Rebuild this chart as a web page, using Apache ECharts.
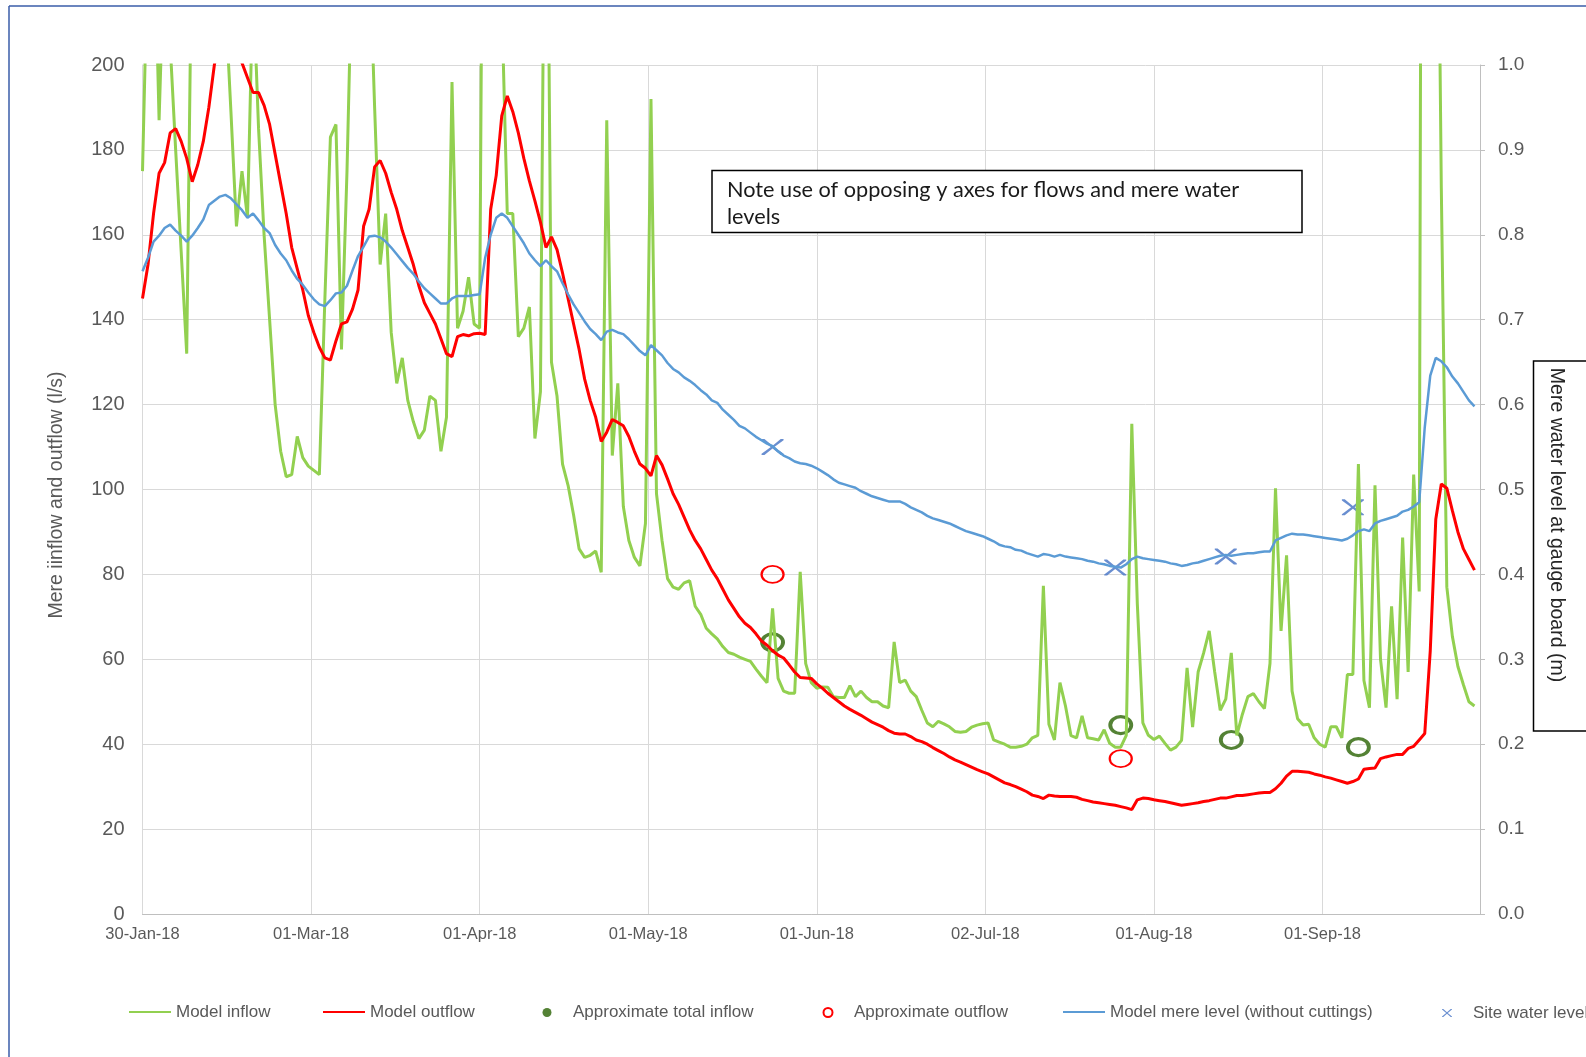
<!DOCTYPE html>
<html><head><meta charset="utf-8">
<script src="https://cdn.jsdelivr.net/npm/echarts@6/dist/echarts.min.js"></script>
<style>html,body{margin:0;padding:0;background:#fff;} #c{width:1586px;height:1057px;}</style>
</head><body><div id="c"></div>
<script>
// x axis: days after 30-Jan-18 (daily model output, day 0 .. 241)
const tickLabels = ['30-Jan-18','01-Mar-18','01-Apr-18','01-May-18','01-Jun-18','02-Jul-18','01-Aug-18','01-Sep-18'];

// Model inflow (l/s), one value per day from 30-Jan-18
const inflow = [
175,230,240,187,230,205,180,156,132,240, 280,300,290,270,250,215,189,162,175,164,
220,185,160,140,120,109,103,103.5,112.5,107.5, 105.5,104.5,103.5,145,183,186,133,175,230,260,
250,230,190,153,165,137,125,131,121,116, 112,114,122,121,109,117,196,138,142,150,
139,138,350,300,260,215,165,165,136,138, 143,112,123,290,130,122,106,101,94,86,
84,84.5,85.5,80.5,187,108,125,96,88,84, 82,92,192,99,88,79,77,76.5,78,78.5,
72.5,70.6,67.3,66,64.8,63,61.6,61.2,60.5,60, 59.5,57.7,56,54.5,72,55.5,52.5,52,52,80.6,
59,54.5,53.2,53.5,53.4,51.2,51,51,53.8,51.2, 52.5,51,50,50,49,48.6,64.1,54.5,55.1,52.5,
51.2,48,45,44.1,45.4,44.8,44.1,43,42.8,43, 44,44.5,44.8,45,41,40.5,40,39.3,39.3,39.5,
40,41.5,42.1,77.3,44.7,41,54.5,49,42,41.5, 46.7,41.5,41.3,41,43.4,40.2,39.3,39.3,42.1,115.5,
73,45,42.1,41.1,41.9,40.2,38.6,39.3,40.9,58, 44,57,61.5,66.7,57,48,50.6,61.5,42.1,47,
51.2,51.9,50,48.4,59,100.3,66.7,84.5,52.5,46, 44.5,44.7,41.5,40,39.3,44.1,44.1,41.5,56.4,56.4,
106,55,48.6,101,60,48.6,72.5,50.6,88.7,57, 103.5,76,600,520,300,171,77,65.4,58.3,54,
50,49
];

// Model outflow (l/s), one value per day
const outflow = [
145,153,165,174.5,177,184,185,182,178,172.5, 176.5,182,190,200,207,211,212,207,200.5,197,
193.5,193.5,190.5,186,179,172,165,157,152,147, 141,137,133.5,131,130.5,135,139,139.5,142.5,147,
162,166,176,177.5,174.5,170,166,161,157,153, 148,144,141.5,139,135.5,132,131.3,136,136.5,136.2,
136.7,136.8,136.5,166,174,188,192.7,189,184,178, 172.7,168,163,157,159.5,156.5,151,145,139,133,
126,121,117,111.3,113.5,116.5,115.8,115,112.5,109, 106,105,103.2,108,105.8,102.5,99,96.5,93.5,90.5,
88,86,83.5,81,79,76.5,74,72,70,68.5, 67.5,66,64.3,63.3,62,61,60.3,58.7,57,55.7,
55.6,55.5,54.2,53.2,52,51,50,49,48.2,47.5, 46.8,46,45.2,44.6,44,43.2,42.6,42.4,42.4,41.8,
41,40.6,40,39.2,38.5,37.8,37,36.3,35.8,35.2, 34.6,34,33.5,33,32.3,31.6,30.9,30.5,30,29.4,
28.8,28,27.7,27.2,28,27.8,27.7,27.7,27.7,27.5, 27,26.7,26.4,26.2,26,25.8,25.6,25.3,25,24.6,
26.9,27.3,27.2,26.9,26.7,26.5,26.2,25.9,25.6,25.8, 26,26.2,26.5,26.7,27,27.3,27.3,27.6,27.9,27.9,
28.1,28.3,28.5,28.6,28.6,29.5,30.8,32.5,33.6,33.6, 33.5,33.4,33,32.7,32.3,32,31.6,31.2,30.8,31.2,
31.8,34.1,34.3,34.4,36.6,37,37.3,37.6,37.6,39, 39.5,41,42.5,62,93,101.3,100.3,95,90,86,
83.5,81
];

// Model mere level without cuttings (m), one value per day
const mereLevel = [
0.757,0.773,0.792,0.799,0.808,0.812,0.805,0.799,0.792,0.799, 0.808,0.818,0.835,0.840,0.845,0.847,0.843,0.836,0.829,0.820,
0.825,0.817,0.808,0.802,0.788,0.778,0.770,0.758,0.748,0.741, 0.732,0.724,0.718,0.716,0.723,0.731,0.732,0.740,0.758,0.775,
0.786,0.798,0.799,0.797,0.792,0.785,0.777,0.769,0.761,0.754, 0.745,0.737,0.731,0.725,0.719,0.719,0.725,0.728,0.728,0.728,
0.729,0.730,0.773,0.800,0.820,0.825,0.820,0.810,0.800,0.790, 0.778,0.770,0.763,0.770,0.763,0.757,0.743,0.730,0.718,0.708,
0.698,0.689,0.683,0.676,0.686,0.688,0.685,0.683,0.677,0.670, 0.663,0.658,0.670,0.664,0.658,0.649,0.642,0.638,0.632,0.628,
0.623,0.617,0.612,0.605,0.602,0.594,0.588,0.582,0.575,0.572, 0.567,0.562,0.558,0.554,0.551,0.545,0.540,0.537,0.533,0.531,
0.530,0.528,0.525,0.521,0.517,0.512,0.508,0.506,0.504,0.502, 0.498,0.495,0.492,0.490,0.488,0.486,0.486,0.486,0.483,0.479,
0.476,0.473,0.469,0.466,0.464,0.462,0.460,0.457,0.454,0.451, 0.449,0.447,0.445,0.442,0.439,0.435,0.433,0.432,0.429,0.428,
0.425,0.423,0.421,0.424,0.423,0.421,0.423,0.421,0.420,0.419, 0.418,0.416,0.415,0.413,0.412,0.410,0.409,0.408,0.412,0.418,
0.421,0.419,0.418,0.417,0.416,0.415,0.413,0.412,0.410,0.411, 0.413,0.414,0.416,0.418,0.420,0.422,0.423,0.422,0.423,0.424,
0.425,0.425,0.426,0.427,0.427,0.440,0.443,0.446,0.448,0.447, 0.447,0.446,0.445,0.444,0.443,0.442,0.441,0.440,0.442,0.446,
0.451,0.453,0.451,0.460,0.463,0.465,0.467,0.469,0.474,0.476, 0.480,0.485,0.573,0.634,0.655,0.651,0.644,0.633,0.625,0.615,
0.605,0.598
];

// Spot observations
const approxInflowDays = [114, 177, 197, 220];
const approxInflow     = [64, 44.5, 41, 39.3];
const approxOutflowDays = [114, 177];
const approxOutflow     = [80, 36.6];
const siteLevelDays = [114, 176, 196, 219];
const siteLevel     = [0.550, 0.408, 0.421, 0.479];

const toPairs = (arr) => arr.map((v, i) => [i, v]);
const zipPairs = (d, v) => d.map((x, i) => [x, v[i]]);

const FONT = "'Liberation Sans', Arial, sans-serif";
const GREY = '#595959';
const XPATH = 'path://M0,0 L2.6,0 L10,6.6 L17.4,0 L20,0 L20,1.2 L11.6,8 L20,14.8 L20,16 L17.4,16 L10,9.4 L2.6,16 L0,16 L0,14.8 L8.4,8 L0,1.2 Z';

const chart = echarts.init(document.getElementById('c'), null, {renderer: 'canvas'});

// legend: one component per entry so each sits where the original places it
function lg(dataItem, left, h, isLine) {
  const o = {
    data: [dataItem], left: left, top: (isLine ? 1010.5 : 1008.5) - h / 2,
    itemWidth: 42, itemHeight: h, padding: 0, itemGap: 0, selectedMode: false,
    textStyle: {fontFamily: FONT, fontSize: 17, color: GREY}
  };
  if (isLine) o.itemStyle = {opacity: 0};
  return o;
}

chart.setOption({
  animation: false,
  backgroundColor: '#ffffff',
  grid: {left: 142.5, right: 106, top: 65, bottom: 143, containLabel: false, outerBoundsMode: 'none'},
  xAxis: {
    type: 'value', min: 0, max: 242, interval: 30.5,
    axisLine: {show: true, lineStyle: {color: '#BFBFBF', width: 1}},
    axisTick: {show: false},
    splitLine: {show: true, lineStyle: {color: '#D9D9D9', width: 1}},
    axisLabel: {
      fontFamily: FONT, fontSize: 16.5, color: GREY, margin: 12, showMaxLabel: false,
      formatter: function (v) {
        const i = Math.round(v / 30.5);
        return (Math.abs(v - i * 30.5) < 0.01 && i < tickLabels.length) ? tickLabels[i] : '';
      }
    }
  },
  yAxis: [{
    type: 'value', min: 0, max: 200, interval: 20, position: 'left',
    axisLine: {show: true, lineStyle: {color: '#D9D9D9'}},
    axisTick: {show: false},
    splitLine: {show: true, lineStyle: {color: '#D9D9D9', width: 1}},
    axisLabel: {fontFamily: FONT, fontSize: 20, color: GREY, margin: 18}
  }, {
    type: 'value', min: 0, max: 1, interval: 0.1, position: 'right',
    axisLine: {show: true, lineStyle: {color: '#BFBFBF'}},
    axisTick: {show: true, inside: false, length: 5, lineStyle: {color: '#BFBFBF'}},
    splitLine: {show: false},
    axisLabel: {fontFamily: FONT, fontSize: 19, color: GREY, margin: 18,
      formatter: (v) => v.toFixed(1)}
  }],
  legend: [
    lg('Model inflow', 128, 14, true),
    lg('Model outflow', 322, 14, true),
    lg({name: 'Approximate total inflow', icon: 'circle', itemStyle: {color: '#548235', borderWidth: 0}}, 542.5, 9, false),
    lg({name: 'Approximate outflow', icon: 'circle', itemStyle: {color: '#ffffff', borderColor: '#FF0000', borderWidth: 2}}, 822.5, 9, false),
    lg('Model mere level (without cuttings)', 1062, 14, true),
    lg('Site water level', 1442, 8, false)
  ],
  series: [{
    name: 'Model inflow', type: 'line', yAxisIndex: 0, data: toPairs(inflow),
    symbol: 'none', clip: true, lineStyle: {color: '#92D050', width: 3}, itemStyle: {color: '#92D050'}
  }, {
    name: 'Model outflow', type: 'line', yAxisIndex: 0, data: toPairs(outflow),
    symbol: 'none', clip: true, lineStyle: {color: '#FF0000', width: 3}, itemStyle: {color: '#FF0000'}
  }, {
    name: 'Approximate total inflow', type: 'scatter', yAxisIndex: 0, data: zipPairs(approxInflowDays, approxInflow),
    symbol: 'circle', symbolSize: [21, 17],
    itemStyle: {color: 'rgba(255,255,255,0)', borderColor: '#548235', borderWidth: 3.5, opacity: 1}
  }, {
    name: 'Approximate outflow', type: 'scatter', yAxisIndex: 0, data: zipPairs(approxOutflowDays, approxOutflow),
    symbol: 'circle', symbolSize: [22, 17],
    itemStyle: {color: 'rgba(255,255,255,0)', borderColor: '#FF0000', borderWidth: 2, opacity: 1}
  }, {
    name: 'Model mere level (without cuttings)', type: 'line', yAxisIndex: 1, data: toPairs(mereLevel),
    symbol: 'none', clip: true, lineStyle: {color: '#5B9BD5', width: 2.5}, itemStyle: {color: '#5B9BD5'}
  }, {
    name: 'Site water level', type: 'scatter', yAxisIndex: 1, data: zipPairs(siteLevelDays, siteLevel),
    symbol: XPATH, symbolSize: [22, 16], itemStyle: {color: '#4472C4'}
  }],
  graphic: [
    {type: 'line', shape: {x1: 9, y1: 6, x2: 9, y2: 1057}, style: {stroke: '#3A5DA8', lineWidth: 1.5}, silent: true},
    {type: 'line', shape: {x1: 9, y1: 6, x2: 1586, y2: 6}, style: {stroke: '#3A5DA8', lineWidth: 1.5}, silent: true},
    {type: 'text', x: 56.5, y: 495, rotation: Math.PI / 2,
      style: {text: 'Mere iinflow and outflow (l/s)', font: "19.5px 'Liberation Sans', Arial, sans-serif", fill: GREY, align: 'center', verticalAlign: 'middle'}},
    {type: 'rect', shape: {x: 1533.5, y: 361, width: 80, height: 370}, style: {fill: '#ffffff', stroke: '#000000', lineWidth: 1.5}},
    {type: 'text', x: 1556, y: 525, rotation: -Math.PI / 2,
      style: {text: 'Mere water level at gauge board (m)', font: "19.5px 'Liberation Sans', Arial, sans-serif", fill: '#262626', align: 'center', verticalAlign: 'middle'}},
    {type: 'rect', shape: {x: 712, y: 170.5, width: 590, height: 62}, style: {fill: '#ffffff', stroke: '#000000', lineWidth: 1.5}, z: 10},
    {type: 'text', x: 727, y: 203.8, z: 11,
      style: {text: 'Note use of opposing y axes for flows and mere water\nlevels', font: "21.7px Lato, 'Open Sans', sans-serif", fill: '#1a1a1a', align: 'left', verticalAlign: 'middle', lineHeight: 27.3}}
  ]
});
</script></body></html>
